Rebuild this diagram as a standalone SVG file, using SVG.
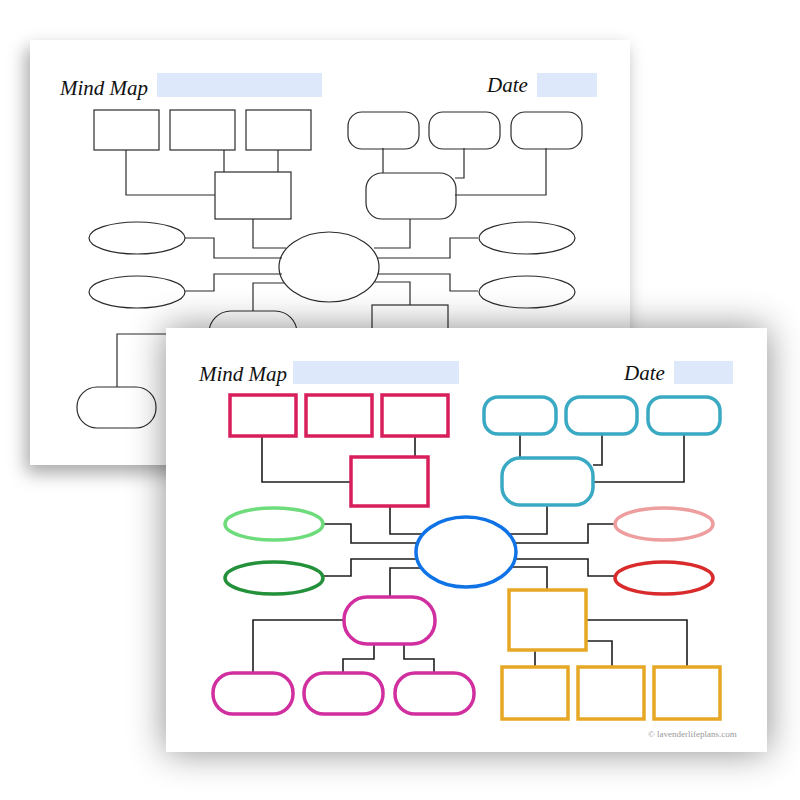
<svg xmlns="http://www.w3.org/2000/svg" width="800" height="800" viewBox="0 0 800 800">
<defs>
<filter id="shBack" x="-20%" y="-20%" width="140%" height="150%">
<feDropShadow dx="-4" dy="8" stdDeviation="9" flood-color="#000" flood-opacity="0.35"/>
</filter>
<filter id="shFront" x="-20%" y="-30%" width="140%" height="160%">
<feDropShadow dx="0" dy="0" stdDeviation="18" flood-color="#000" flood-opacity="0.45"/>
</filter>
<style>
.sheet{fill:#fff}
.bk{fill:none;stroke:#2b2b2b;stroke-width:1.2}
.ln{fill:none;stroke:#2b2b2b;stroke-width:1.2}
.fl{fill:none;stroke:#1e1e1e;stroke-width:1.6}
.blank{fill:#dde9fb}
.title{font-family:"Liberation Serif","DejaVu Serif",serif;font-style:italic;fill:#111}
.pink{fill:#fff;stroke:#d81e5b;stroke-width:3.5}
.teal{fill:#fff;stroke:#3aa9c4;stroke-width:3.5}
.mag{fill:#fff;stroke:#d12f9f;stroke-width:3.5}
.org{fill:#fff;stroke:#e6a824;stroke-width:3.5}
.copy{font-family:"Liberation Serif","DejaVu Serif",serif;font-size:9px;fill:#999}
</style>
</defs>
<rect width="800" height="800" fill="#fff"/>

<!-- Back sheet -->
<g id="back-sheet">
<rect class="sheet" x="30" y="40" width="600" height="425" filter="url(#shBack)"/>
<text class="title" x="60" y="95" font-size="21">Mind Map</text>
<rect class="blank" x="157" y="73" width="165" height="24"/>
<text class="title" x="487" y="92" font-size="21">Date</text>
<rect class="blank" x="537" y="73" width="60" height="24"/>
<g id="back-connectors">
<path class="ln" d="M126 150V195H215M224 150V172M278 150V172"/>
<path class="ln" d="M383 148V173M464 148V178H455M546 148V195H455"/>
<path class="ln" d="M253 219V248H286M410 219V248H374"/>
<path class="ln" d="M185 238H214V258H282M185 291H214V274H282"/>
<path class="ln" d="M478 238H450V258H377M478 291H450V274H377"/>
<path class="ln" d="M284 283H253V311M375 282H410V305"/>
<path class="ln" d="M209 334H117V387"/>
</g>
<g id="b-r1"><rect class="bk" x="94" y="110" width="65" height="40" fill="#fff"/></g>
<g id="b-r2"><rect class="bk" x="170" y="110" width="65" height="40" fill="#fff"/></g>
<g id="b-r3"><rect class="bk" x="246" y="110" width="65" height="40" fill="#fff"/></g>
<g id="b-rr1"><rect class="bk" x="348" y="112" width="71" height="37" rx="14" fill="#fff"/></g>
<g id="b-rr2"><rect class="bk" x="429" y="112" width="71" height="37" rx="14" fill="#fff"/></g>
<g id="b-rr3"><rect class="bk" x="511" y="112" width="71" height="37" rx="14" fill="#fff"/></g>
<g id="b-mid-rect"><rect class="bk" x="215" y="172" width="76" height="47" fill="#fff"/></g>
<g id="b-mid-round"><rect class="bk" x="366" y="173" width="90" height="46" rx="16" fill="#fff"/></g>
<g id="b-el1"><ellipse class="bk" cx="137" cy="238" rx="48" ry="16" fill="#fff"/></g>
<g id="b-el2"><ellipse class="bk" cx="137" cy="292" rx="48" ry="16" fill="#fff"/></g>
<g id="b-el3"><ellipse class="bk" cx="527" cy="238" rx="48" ry="16" fill="#fff"/></g>
<g id="b-el4"><ellipse class="bk" cx="527" cy="292" rx="48" ry="16" fill="#fff"/></g>
<g id="b-center"><ellipse class="bk" cx="329" cy="267" rx="50" ry="35" fill="#fff"/></g>
<g id="b-bot-round"><rect class="bk" x="209" y="311" width="88" height="46" rx="22" fill="#fff"/></g>
<g id="b-bot-rect"><rect class="bk" x="372" y="305" width="76" height="60" fill="#fff"/></g>
<g id="b-left-round"><rect class="bk" x="77" y="387" width="79" height="41" rx="20" fill="#fff"/></g>
</g>

<!-- Front sheet -->
<g id="front-sheet">
<rect class="sheet" x="166" y="328" width="601" height="424" filter="url(#shFront)"/>
<rect class="sheet" x="166" y="328" width="601" height="424"/>
<text class="title" x="199" y="381" font-size="21">Mind Map</text>
<rect class="blank" x="293" y="361" width="166" height="23"/>
<text class="title" x="624" y="380" font-size="21">Date</text>
<rect class="blank" x="674" y="361" width="59" height="23"/>
<text class="copy" x="648" y="737">© lavenderlifeplans.com</text>

<g id="connectors">
<path class="fl" d="M262 436V482H351M415 436V457"/>
<path class="fl" d="M520 434V458M602 434V465H593M684 434V482H593"/>
<path class="fl" d="M390 506V534H425M547 505V534H510"/>
<path class="fl" d="M323 524H351V543H418M323 576H351V559H418"/>
<path class="fl" d="M615 524H588V543H514M615 576H588V559H514"/>
<path class="fl" d="M421 568H390V597M512 567H547V590"/>
<path class="fl" d="M344 620H253V673M374 644V659H343V673M404 644V659H434V673"/>
<path class="fl" d="M586 620H687V667M586 641H612V667M535 650V667"/>
</g>

<g id="p-r1"><rect class="pink" x="230" y="395" width="66" height="41"/></g>
<g id="p-r2"><rect class="pink" x="306" y="395" width="66" height="41"/></g>
<g id="p-r3"><rect class="pink" x="382" y="395" width="66" height="41"/></g>
<g id="p-mid"><rect class="pink" x="351" y="457" width="77" height="49"/></g>
<g id="t-r1"><rect class="teal" x="484" y="397" width="72" height="37" rx="14"/></g>
<g id="t-r2"><rect class="teal" x="566" y="397" width="71" height="37" rx="14"/></g>
<g id="t-r3"><rect class="teal" x="648" y="397" width="72" height="37" rx="14"/></g>
<g id="t-mid"><rect class="teal" x="502" y="458" width="91" height="47" rx="18"/></g>
<g id="el-lightgreen"><ellipse cx="274" cy="524" rx="49" ry="16" fill="#fff" stroke="#6fdc7c" stroke-width="3.5"/></g>
<g id="el-darkgreen"><ellipse cx="274" cy="578" rx="49" ry="16" fill="#fff" stroke="#23913a" stroke-width="3.5"/></g>
<g id="el-salmon"><ellipse cx="664" cy="524" rx="49" ry="16" fill="#fff" stroke="#ee9e9e" stroke-width="3.5"/></g>
<g id="el-red"><ellipse cx="664" cy="578" rx="49" ry="16" fill="#fff" stroke="#d92b2b" stroke-width="3.5"/></g>
<g id="center"><ellipse cx="466" cy="552" rx="50" ry="35" fill="#fff" stroke="#0f73e6" stroke-width="3.5"/></g>
<g id="m-mid"><rect class="mag" x="344" y="597" width="91" height="47" rx="23"/></g>
<g id="m-b1"><rect class="mag" x="213" y="673" width="80" height="41" rx="20"/></g>
<g id="m-b2"><rect class="mag" x="304" y="673" width="79" height="41" rx="20"/></g>
<g id="m-b3"><rect class="mag" x="395" y="673" width="79" height="41" rx="20"/></g>
<g id="o-mid"><rect class="org" x="509" y="590" width="77" height="60"/></g>
<g id="o-b1"><rect class="org" x="502" y="667" width="66" height="52"/></g>
<g id="o-b2"><rect class="org" x="578" y="667" width="66" height="52"/></g>
<g id="o-b3"><rect class="org" x="654" y="667" width="66" height="52"/></g>
</g>
</svg>
